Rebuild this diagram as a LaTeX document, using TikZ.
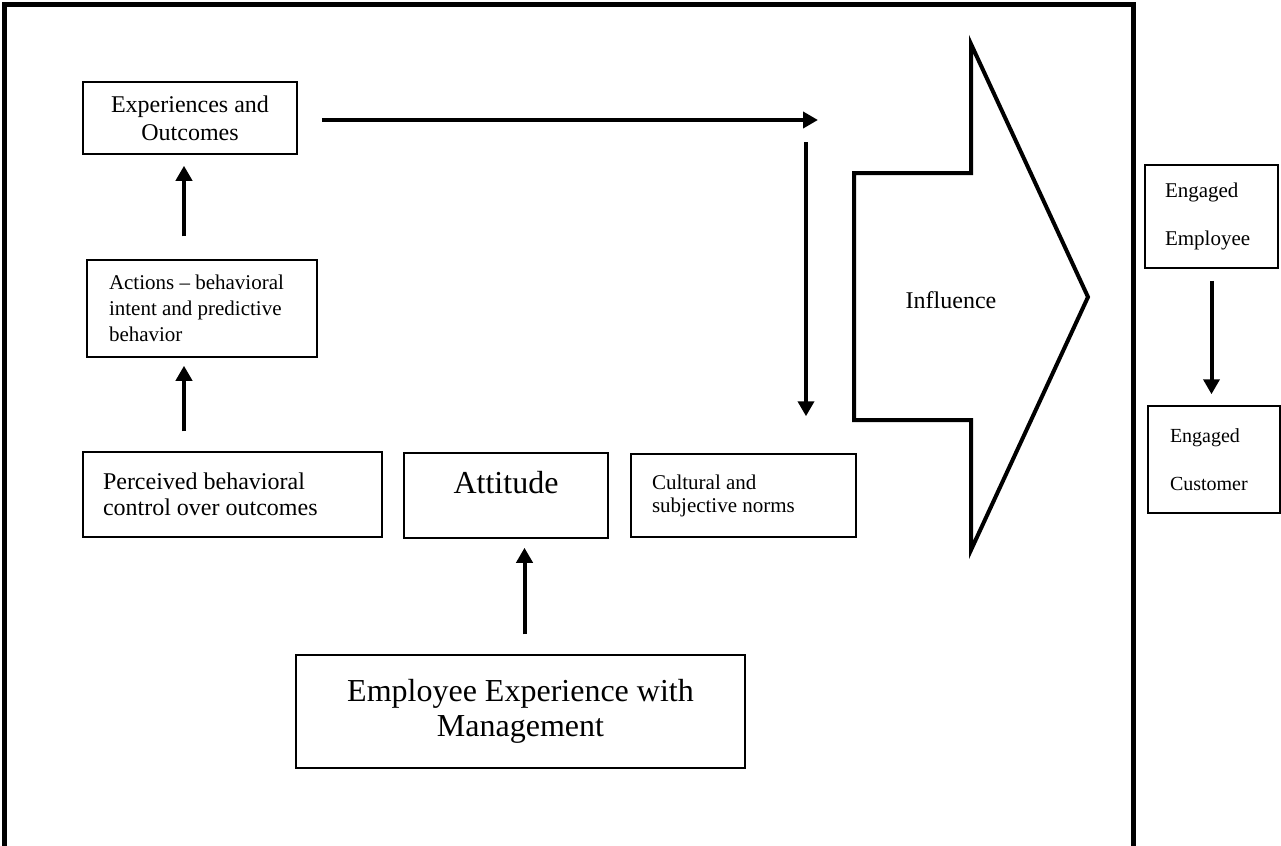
\documentclass[tikz,border=0pt]{standalone}
\usepackage{fontspec}
\setmainfont{Liberation Serif}
\usetikzlibrary{arrows.meta}

\tikzset{
  box/.style={draw, line width=0.75pt, inner sep=0pt},
  arr/.style={line width=2pt, -{Triangle[length=7.5pt,width=8pt]}},
}

\begin{document}
\begin{tikzpicture}[x=0.5pt,y=-0.5pt]
\useasboundingbox (0,0) rectangle (1281,846);
% outer frame, open at the bottom
\draw[line width=2.5pt] (4,852) -- (4,4) -- (1133,4) -- (1133,852);

% left column
\node[box,minimum width=107pt,minimum height=36pt,align=center,font=\fontsize{12}{14}\selectfont] (exp) at (190,118) {Experiences and\\Outcomes};
\node[box,minimum width=115pt,minimum height=48.5pt,text width=93pt,align=flush left,font=\fontsize{10.5}{13}\selectfont] (act) at (202,308.5) {Actions -- behavioral\\intent and predictive\\behavior};
\node[box,minimum width=149.5pt,minimum height=42.5pt,text width=129.5pt,align=flush left,font=\fontsize{12}{13}\selectfont] (perc) at (232.5,494.5) {Perceived behavioral\\control over outcomes};
\node[box,minimum width=102pt,text height=20pt,text depth=22.5pt,font=\fontsize{16}{18}\selectfont] (att) at (506,495.5) {Attitude};
\node[box,minimum width=112.5pt,minimum height=41.5pt,text width=91.5pt,align=flush left,font=\fontsize{10.5}{11.5}\selectfont] (cult) at (743.5,495.5) {Cultural and\\subjective norms};
\node[box,minimum width=224.5pt,minimum height=56.5pt,align=center,font=\fontsize{16}{17.5}\selectfont] (emx) at (520.5,711.5) {Employee Experience with\\Management};

% big arrow
\draw[line width=2pt] (854,173) -- (971,173) -- (971,44) -- (1088,297) -- (971,550) -- (971,420) -- (854,420) -- cycle;
\node[font=\fontsize{12}{14}\selectfont] (infl) at (951,300) {Influence};

% right column
\node[box,minimum width=66.5pt,minimum height=51.5pt,text width=46.5pt,align=flush left,font=\fontsize{10.5}{24}\selectfont] (eemp) at (1211.5,216.5) {Engaged\\Employee};
\node[box,minimum width=66pt,minimum height=53.5pt,text width=44pt,align=flush left,font=\fontsize{10}{24}\selectfont] (ecust) at (1214,459.5) {Engaged\\Customer};

% arrows
\coordinate (hend) at (818,120);
\coordinate (vtop) at (806,142);
\draw[arr,shorten <=12pt] (exp.east |- hend) -- (hend);
\draw[arr,shorten >=18.5pt] (vtop) -- (vtop |- cult.north);
\draw[arr,shorten <=11.5pt,shorten >=5.5pt] ([xshift=-3pt]exp.south |- act.north) -- ([xshift=-3pt]exp.south);
\draw[arr,shorten <=10pt,shorten >=4pt] ([xshift=-3pt]exp.south |- perc.north) -- ([xshift=-3pt]exp.south |- act.south);
\draw[arr,shorten <=10pt,shorten >=4.5pt] ([xshift=2pt]emx.north) -- ([xshift=2pt]emx.north |- att.south);
\draw[arr,shorten <=6pt,shorten >=5.5pt] (eemp.south) -- (eemp.south |- ecust.north);
\end{tikzpicture}
\end{document}
